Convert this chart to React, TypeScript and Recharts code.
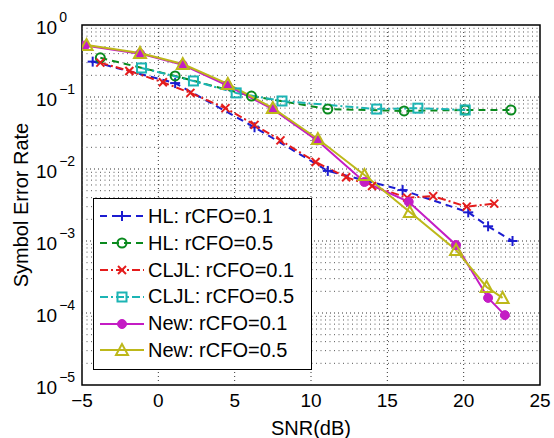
import { LineChart, Line, XAxis, YAxis, ReferenceLine, ReferenceArea, Legend } from "recharts";

// SNR (dB) / symbol error rate
const snrHL01 = [-4.3, 1.1, 6.3, 11.1, 16.0, 20.3, 21.6, 23.2];
const serHL01 = [0.31, 0.156, 0.038, 0.0094, 0.0051, 0.0025, 0.0016, 0.001];

const snrHL05 = [-3.8, 1.1, 6.1, 11.1, 16.1, 20.1, 23.1];
const serHL05 = [0.35, 0.196, 0.103, 0.068, 0.064, 0.066, 0.066];

const snrCLJL01 = [-3.8, -1.9, 0.3, 2.1, 4.4, 6.3, 8.0, 10.3, 12.3, 14.0, 16.3, 18.0, 20.2, 22.0];
const serCLJL01 = [0.3, 0.23, 0.16, 0.114, 0.07, 0.041, 0.025, 0.0125, 0.0077, 0.0058, 0.004, 0.0042, 0.003, 0.0033];

const snrCLJL05 = [-1.1, 2.3, 5.1, 8.1, 14.3, 17.0, 20.1];
const serCLJL05 = [0.253, 0.167, 0.114, 0.088, 0.068, 0.07, 0.066];

const snrNew01 = [-4.8, -1.2, 1.6, 4.5, 7.5, 10.4, 13.5, 16.4, 19.5, 21.6, 22.7];
const serNew01 = [0.52, 0.4, 0.28, 0.145, 0.068, 0.025, 0.0066, 0.0035, 0.00088, 0.000162, 0.0000934];

const snrNew05 = [-4.7, -1.2, 1.6, 4.55, 7.5, 10.45, 13.5, 16.47, 19.5, 21.5, 22.55];
const serNew05 = [0.527, 0.409, 0.287, 0.152, 0.0703, 0.0261, 0.00825, 0.00253, 0.00075, 0.00023, 0.000162];

const xTicks = [-5, 0, 5, 10, 15, 20, 25];
const yTicks = [1e-5, 1e-4, 1e-3, 1e-2, 1e-1, 1];
const xGrid = [0, 5, 10, 15, 20];
const minorY = [1e-5, 1e-4, 1e-3, 1e-2, 1e-1].flatMap((d) => [2, 3, 4, 5, 6, 7, 8, 9].map((m) => m * d));

const FONT = '"Liberation Sans", Arial, Helvetica, sans-serif';

const series = [
  { name: "HL: rCFO=0.1", x: snrHL01, y: serHL01, color: "#1c1cd0", dash: "7 5", marker: "plus" },
  { name: "HL: rCFO=0.5", x: snrHL05, y: serHL05, color: "#0a8a1e", dash: "7 5", marker: "circle" },
  { name: "CLJL: rCFO=0.1", x: snrCLJL01, y: serCLJL01, color: "#e41c1c", dash: "8 3 2 3", marker: "cross" },
  { name: "CLJL: rCFO=0.5", x: snrCLJL05, y: serCLJL05, color: "#1cb4b4", dash: "8 3 2 3", marker: "square" },
  { name: "New: rCFO=0.1", x: snrNew01, y: serNew01, color: "#c41cc4", dash: undefined, marker: "dot" },
  { name: "New: rCFO=0.5", x: snrNew05, y: serNew05, color: "#bdb81a", dash: undefined, marker: "triangle" },
];

function Marker({ kind, cx, cy, color }: { kind: string; cx: number; cy: number; color: string }) {
  const sw = 2;
  switch (kind) {
    case "plus":
      return (
        <g stroke={color} strokeWidth={sw}>
          <line x1={cx - 5} y1={cy} x2={cx + 5} y2={cy} />
          <line x1={cx} y1={cy - 5} x2={cx} y2={cy + 5} />
        </g>
      );
    case "cross":
      return (
        <g stroke={color} strokeWidth={sw}>
          <line x1={cx - 4} y1={cy - 4} x2={cx + 4} y2={cy + 4} />
          <line x1={cx - 4} y1={cy + 4} x2={cx + 4} y2={cy - 4} />
        </g>
      );
    case "circle":
      return <circle cx={cx} cy={cy} r={4.5} fill="none" stroke={color} strokeWidth={sw} />;
    case "square":
      return <rect x={cx - 4.5} y={cy - 4.5} width={9} height={9} fill="none" stroke={color} strokeWidth={sw} />;
    case "dot":
      return <circle cx={cx} cy={cy} r={4.5} fill={color} stroke={color} strokeWidth={1} />;
    default:
      return (
        <polygon
          points={`${cx},${cy - 6} ${cx - 6},${cy + 5} ${cx + 6},${cy + 5}`}
          fill="none"
          stroke={color}
          strokeWidth={sw}
        />
      );
  }
}

function YTick({ y, payload }: any) {
  const e = Math.round(Math.log10(payload.value));
  const exp = e === 0 ? "0" : "\u2212" + Math.abs(e);
  return (
    <text x={36} y={y + 9} fontSize={19} fontFamily={FONT} fill="#000">
      <tspan>10</tspan>
      <tspan dx={2} dy={-12} fontSize={14}>{exp}</tspan>
    </text>
  );
}

function LegendBox() {
  return (
    <div
      style={{
        border: "1.5px solid #000",
        background: "#fff",
        padding: "4px 0 5px 0",
        fontFamily: FONT,
        fontSize: 20,
        lineHeight: "26.8px",
        width: 219,
        boxSizing: "border-box",
      }}
    >
      {series.map((s) => (
        <div key={s.name} style={{ display: "flex", alignItems: "center", height: 26.8, whiteSpace: "nowrap" }}>
          <svg width={54} height={20} style={{ flex: "none" }}>
            <line x1={6} y1={10} x2={50} y2={10} stroke={s.color} strokeWidth={2} strokeDasharray={s.dash} />
            <Marker kind={s.marker} cx={28} cy={10} color={s.color} />
          </svg>
          <span>{s.name}</span>
        </div>
      ))}
    </div>
  );
}

export default function App() {
  return (
    <div style={{ position: "absolute", left: 0, top: 0, background: "#fff" }}>
      <LineChart width={554} height={438} margin={{ top: 25, right: 14, bottom: 0, left: 0 }}>
        <XAxis
          type="number"
          dataKey="x"
          domain={[-5, 25]}
          ticks={xTicks}
          allowDataOverflow
          axisLine={false}
          tickLine={false}
          height={53}
          tickMargin={3}
          tick={{ fontSize: 19, fontFamily: FONT, fill: "#000" }}
          tickFormatter={(v: number) => String(v).replace("-", "\u2212")}
          label={{ value: "SNR(dB)", position: "insideBottom", offset: 3, fontSize: 20, fontFamily: FONT, fill: "#000" }}
        />
        <YAxis
          type="number"
          dataKey="y"
          scale="log"
          domain={[1e-5, 1]}
          ticks={yTicks}
          allowDataOverflow
          axisLine={false}
          tickLine={false}
          width={82}
          tick={<YTick />}
          label={{
            content: ({ viewBox }: any) => {
              const cy = viewBox.y + viewBox.height / 2;
              return (
                <text
                  x={21}
                  y={cy}
                  transform={`rotate(-90, 21, ${cy})`}
                  textAnchor="middle"
                  dominantBaseline="central"
                  fontSize={20}
                  fontFamily={FONT}
                  fill="#000"
                >
                  Symbol Error Rate
                </text>
              );
            },
          }}
        />
        {minorY.map((v) => (
          <ReferenceLine key={"m" + v} y={v} stroke="#555" strokeWidth={1} strokeDasharray="1 3.5" />
        ))}
        {yTicks.slice(1, -1).map((v) => (
          <ReferenceLine key={"M" + v} y={v} stroke="#333" strokeWidth={1} strokeDasharray="1 3" />
        ))}
        {xGrid.map((v) => (
          <ReferenceLine key={"x" + v} x={v} stroke="#333" strokeWidth={1} strokeDasharray="1 3" />
        ))}
        {series.map((s) => (
          <Line
            key={s.name}
            name={s.name}
            data={s.x.map((x, i) => ({ x, y: s.y[i] }))}
            dataKey="y"
            stroke={s.color}
            strokeWidth={2}
            strokeDasharray={s.dash}
            isAnimationActive={false}
            dot={(p: any) => <Marker key={s.name + p.index} kind={s.marker} cx={p.cx} cy={p.cy} color={s.color} />}
            activeDot={false}
          />
        ))}
        <ReferenceArea x1={-5} x2={25} y1={1e-5} y2={1} fill="none" stroke="#000" strokeWidth={1.5} ifOverflow="visible" />
        <Legend
          layout="horizontal"
          verticalAlign="middle"
          align="center"
          content={() => <LegendBox />}
          wrapperStyle={{ left: 93, top: 198, width: 219 }}
        />
      </LineChart>
    </div>
  );
}
